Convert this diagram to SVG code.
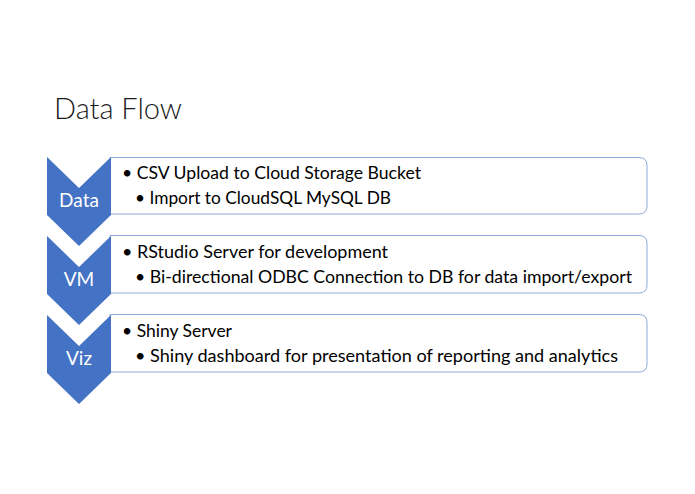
<svg xmlns="http://www.w3.org/2000/svg" width="695" height="494" viewBox="0 0 695 494">
<style>
.chev{fill:#4472c4;stroke:none}
.box{fill:#ffffff;stroke:#8eaadb;stroke-width:1}
.lbl{font-family:Lato,"Liberation Sans",sans-serif;font-size:19px;fill:#ffffff;text-anchor:middle}
.t{font-family:Lato,"Liberation Sans",sans-serif;font-size:17px;fill:#000000}
.title{font-family:Lato,"Liberation Sans",sans-serif;font-size:29px;fill:#1a1a1a;font-weight:300}
</style>
<rect width="695" height="494" fill="#ffffff"/>
<text class="title" x="54" y="119">Data Flow</text>
<g id="connectors"></g>
<g id="node-data">
<path class="box" d="M110,157.5 H639 Q647,157.5 647,165.5 V206 Q647,214 639,214 H110 Z"/>
<path class="chev" d="M47,157 L79,188 L111,157 V215 L79,246 L47,215 Z"/>
<text class="lbl" x="79" y="207">Data</text>
<text class="t" x="122" y="179" textLength="299" lengthAdjust="spacingAndGlyphs">• CSV Upload to Cloud Storage Bucket</text>
<text class="t" x="135" y="204" textLength="256" lengthAdjust="spacingAndGlyphs">• Import to CloudSQL MySQL DB</text>
</g>
<g id="node-vm">
<path class="box" d="M110,235.5 H639 Q647,235.5 647,243.5 V285 Q647,293 639,293 H110 Z"/>
<path class="chev" d="M47,236 L79,267 L111,236 V294 L79,325 L47,294 Z"/>
<text class="lbl" x="79" y="286">VM</text>
<text class="t" x="122" y="258" textLength="266" lengthAdjust="spacingAndGlyphs">• RStudio Server for development</text>
<text class="t" x="135" y="283" textLength="497" lengthAdjust="spacingAndGlyphs">• Bi-directional ODBC Connection to DB for data import/export</text>
</g>
<g id="node-viz">
<path class="box" d="M110,314.5 H639 Q647,314.5 647,322.5 V364 Q647,372 639,372 H110 Z"/>
<path class="chev" d="M47,315 L79,346 L111,315 V373 L79,404 L47,373 Z"/>
<text class="lbl" x="79" y="365">Viz</text>
<text class="t" x="122" y="337" textLength="110" lengthAdjust="spacingAndGlyphs">• Shiny Server</text>
<text class="t" x="135" y="362" textLength="483" lengthAdjust="spacingAndGlyphs">• Shiny dashboard for presentation of reporting and analytics</text>
</g>
</svg>
